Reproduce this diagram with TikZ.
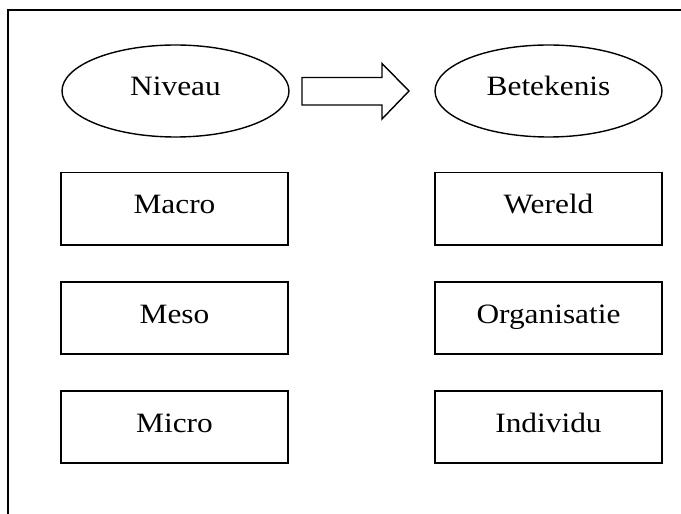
\documentclass[tikz,border=0pt]{standalone}
\usepackage{fontspec}
\setmainfont{Liberation Serif}[FakeStretch=1.12]
\usetikzlibrary{shapes.geometric}

\tikzset{
  oval/.style={draw, line width=1.4bp, ellipse, inner sep=0pt,
    minimum width=227bp, minimum height=92bp,
    font=\fontsize{28bp}{34bp}\selectfont, text height=20bp, text depth=10bp},
  levelbox/.style={draw, line width=1.6bp, rectangle, inner sep=0pt,
    minimum width=227bp, minimum height=72.5bp,
    font=\fontsize{28bp}{34bp}\selectfont, text height=20bp, text depth=10bp},
  blockarrow/.style={draw, line width=1.4bp, fill=white, line join=miter},
  frameline/.style={draw, line width=2bp}
}

\begin{document}
\begin{tikzpicture}[x=1bp, y=-1bp]
  \useasboundingbox (0,0) rectangle (681,514);
  \fill[white] (0,0) rectangle (681,514);
  \clip (0,0) rectangle (681,514);

  % surrounding frame, running past the right and bottom edges
  \draw[frameline] (8,530) -- (8,10) -- (700,10);

  % header ovals
  \node[oval] (niveau)    at (175.5,91) {Niveau};
  \node[oval] (betekenis) at (548.5,91) {Betekenis};

  % block arrow between the two headers
  \draw[blockarrow] (302,77.5) -- (382,77.5) -- (382,63.5) -- (409,91)
    -- (382,119) -- (382,105) -- (302,105) -- cycle;

  % level column
  \node[levelbox] (macro) at (174.5,208.8) {Macro};
  \node[levelbox] (meso)  at (174.5,318)   {Meso};
  \node[levelbox] (micro) at (174.5,427)   {Micro};

  % meaning column
  \node[levelbox] (wereld)      at (548.5,208.8) {Wereld};
  \node[levelbox] (organisatie) at (548.5,318)   {Organisatie};
  \node[levelbox] (individu)    at (548.5,427)   {Individu};
\end{tikzpicture}
\end{document}
